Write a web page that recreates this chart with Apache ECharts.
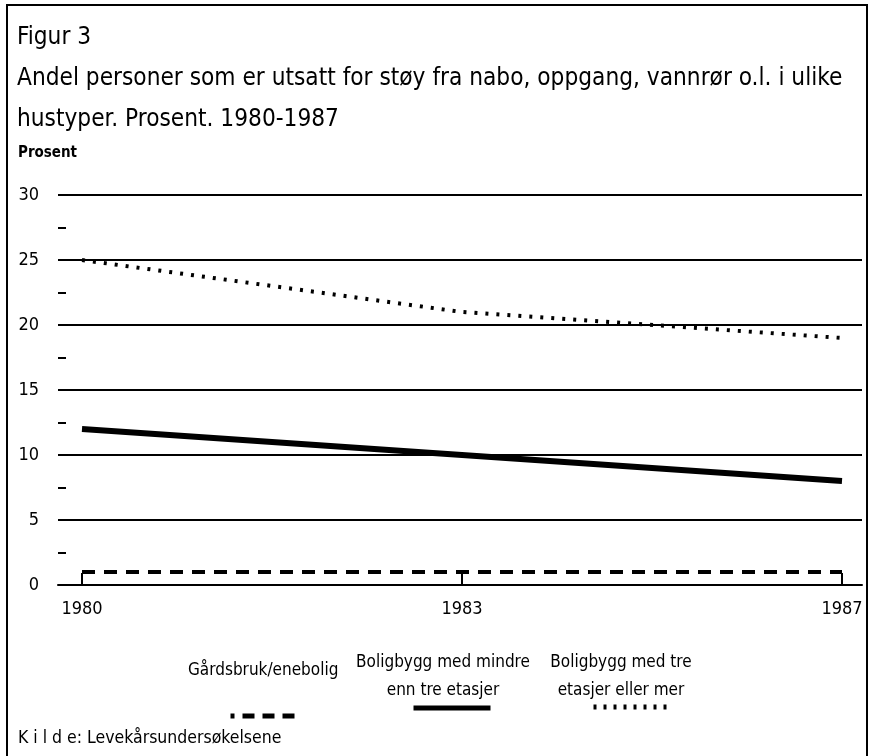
<!DOCTYPE html>
<html>
<head>
<meta charset="utf-8">
<script src="https://cdn.jsdelivr.net/npm/echarts@6/dist/echarts.min.js"></script>
<style>
  * { margin: 0; padding: 0; }
  #chart { width: 871px; height: 756px; background: #fff; }
</style>
</head>
<body>
<div id="chart"></div>
<script>
// data
var years = ['1980', '1983', '1987'];
var gardsbruk = [1, 1, 1];        // Gårdsbruk/enebolig
var mindreEnnTre = [12, 10, 8];   // Boligbygg med mindre enn tre etasjer
var treEllerMer = [25, 21, 19];   // Boligbygg med tre etasjer eller mer
var yTicks = [0, 5, 10, 15, 20, 25, 30];

var FONT = "'Liberation Sans Narrow', 'DejaVu Sans Condensed', 'Arial Narrow', sans-serif";

function pts(arr) {
  // index position on x, value on y
  return arr.map(function (v, i) { return [i, v]; });
}

// legend: icon only, text is drawn separately above it
function legendFor(name, left, top, width, lineStyle) {
  return {
    data: [name], left: left, top: top,
    itemWidth: width, itemHeight: 12,
    formatter: function () { return ''; },
    itemGap: 0, padding: 0, selectedMode: false,
    itemStyle: { opacity: 0 },
    lineStyle: lineStyle
  };
}

var chart = echarts.init(document.getElementById('chart'));

chart.setOption({
  backgroundColor: '#fff',
  animation: false,
  textStyle: { fontFamily: FONT, color: '#000' },
  title: {
    left: 12,
    top: 12,
    text: 'Figur 3\nAndel personer som er utsatt for støy fra nabo, oppgang, vannrør o.l. i ulike\nhustyper. Prosent. 1980-1987',
    textStyle: { fontFamily: FONT, fontSize: 24.2, fontWeight: 'normal', color: '#000', lineHeight: 41 }
  },
  grid: { left: 58, right: 9, top: 195, bottom: 171 },
  xAxis: {
    type: 'value',
    min: -24 / 380,
    max: 2 + 20 / 380,
    splitLine: { show: false },
    axisLine: { show: true, lineStyle: { color: '#000', width: 2 } },
    axisTick: { show: true, inside: true, length: 12, lineStyle: { color: '#000', width: 2 }, customValues: [0, 1, 2] },
    axisLabel: {
      customValues: [0, 1, 2],
      formatter: function (v) { return years[Math.round(v)]; },
      fontFamily: FONT, fontSize: 18, color: '#000', margin: 15
    }
  },
  yAxis: {
    type: 'value',
    min: 0,
    max: 30,
    interval: 5,
    axisLine: { show: false, onZero: false },
    axisTick: { show: false, inside: true },
    minorTick: { show: true, splitNumber: 2, length: 8, lineStyle: { color: '#000', width: 2 } },
    splitLine: { show: true, lineStyle: { color: '#000', width: 2 } },
    axisLabel: {
      fontFamily: FONT, fontSize: 18, color: '#000', margin: 19,
      formatter: function (v) { return yTicks.indexOf(v) >= 0 ? String(v) : ''; }
    }
  },
  legend: [
    legendFor('Gårdsbruk/enebolig', 228, 710, 72, { color: '#000', width: 5, type: [12, 8], dashOffset: 8 }),
    legendFor('Boligbygg med mindre enn tre etasjer', 411, 702, 77, { color: '#000', width: 5, type: 'solid' }),
    legendFor('Boligbygg med tre etasjer eller mer', 589, 701, 76, { color: '#000', width: 5, type: [3, 7] })
  ],
  graphic: [
    {
      type: 'rect', silent: true, z: 100,
      shape: { x: 7, y: 5, width: 860, height: 800 },
      style: { fill: 'none', stroke: '#000', lineWidth: 2 }
    },
    {
      type: 'text', left: 18, top: 146,
      style: { text: 'Prosent', font: '600 15px ' + FONT, fill: '#000' }
    },
    {
      type: 'text', left: 188, top: 662,
      style: { text: 'Gårdsbruk/enebolig', font: '17px ' + FONT, fill: '#000' }
    },
    {
      type: 'text', x: 443, y: 649,
      style: { text: 'Boligbygg med mindre\nenn tre etasjer', font: '17px ' + FONT, fill: '#000', align: 'center', lineHeight: 28 }
    },
    {
      type: 'text', x: 621, y: 649,
      style: { text: 'Boligbygg med tre\netasjer eller mer', font: '17px ' + FONT, fill: '#000', align: 'center', lineHeight: 28 }
    },
    {
      type: 'text', left: 18, top: 729,
      style: { text: 'K i l d e: Levekårsundersøkelsene', font: '17.5px ' + FONT, fill: '#000' }
    }
  ],
  series: [
    {
      name: 'Gårdsbruk/enebolig',
      type: 'line',
      data: pts(gardsbruk),
      symbol: 'none',
      itemStyle: { color: '#000' },
      lineStyle: { color: '#000', width: 4, type: [13, 9] }
    },
    {
      name: 'Boligbygg med mindre enn tre etasjer',
      type: 'line',
      data: pts(mindreEnnTre),
      symbol: 'none',
      itemStyle: { color: '#000' },
      lineStyle: { color: '#000', width: 6, type: 'solid' }
    },
    {
      name: 'Boligbygg med tre etasjer eller mer',
      type: 'line',
      data: pts(treEllerMer),
      symbol: 'none',
      itemStyle: { color: '#000' },
      lineStyle: { color: '#000', width: 4, type: [3, 8] }
    }
  ]
});
</script>
</body>
</html>
